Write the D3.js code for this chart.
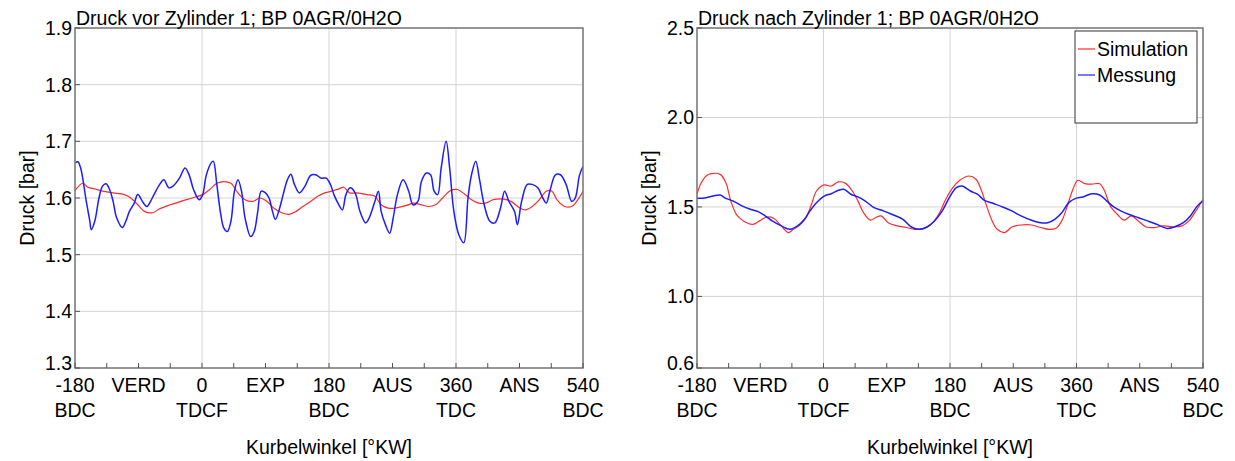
<!DOCTYPE html>
<html><head><meta charset="utf-8">
<script src="https://cdn.jsdelivr.net/npm/d3@7"></script>
<style>body{margin:0;background:#fff} text{font-family:"Liberation Sans",Arial,sans-serif;fill:#000}</style>
</head><body><svg id="c" width="1235" height="461"></svg>
<script>
const xTickValues = [-180,-90,0,90,180,270,360,450,540];
const xTickLine1 = ["-180","VERD","0","EXP","180","AUS","360","ANS","540"];
const xTickLine2 = ["BDC","","TDCF","","BDC","","TDC","","BDC"];
const xMinorTicks = [-180,-135,-90,-45,0,45,90,135,180,225,270,315,360,405,450,495,540];
const xGrid = [-180,0,180,360,540];
const leftYTicks = [1.3,1.4,1.5,1.6,1.7,1.8,1.9];
const leftYLabels = ["1.3","1.4","1.5","1.6","1.7","1.8","1.9"];
const rightYTicks = [0.6,1.0,1.5,2.0,2.5];
const rightYLabels = ["0.6","1.0","1.5","2.0","2.5"];
const seriesNames = ["Simulation","Messung"];
const titles = ["Druck vor Zylinder 1; BP 0AGR/0H2O","Druck nach Zylinder 1; BP 0AGR/0H2O"];

// Left panel: Druck vor Zylinder
const leftSimAngle = [-180,-169,-162,-152,-141,-126,-110,-101,-91,-81,-70,-60,-45,-30,-14,1,11,21,31,41,51,61,72,82,92,102,113,123,133,143,154,164,174,184,194,201,209,219,234,245,254,264,277,290,300,311,321,331,341,352,362,372,382,392,402,413,428,438,451,458,468,478,488,496,503,514,524,531,540];
const leftSimValue = [1.613,1.626,1.619,1.616,1.612,1.609,1.606,1.600,1.588,1.576,1.574,1.581,1.588,1.594,1.600,1.606,1.615,1.626,1.629,1.626,1.609,1.597,1.594,1.600,1.594,1.582,1.574,1.571,1.576,1.585,1.594,1.603,1.609,1.612,1.616,1.619,1.609,1.609,1.606,1.603,1.588,1.582,1.583,1.587,1.591,1.588,1.585,1.588,1.600,1.613,1.615,1.607,1.597,1.591,1.591,1.597,1.598,1.594,1.582,1.579,1.585,1.597,1.612,1.612,1.597,1.585,1.585,1.594,1.612];
const leftMeasAngle = [-180,-176,-172,-164,-159,-157,-152,-146,-141,-136,-131,-126,-121,-113,-108,-103,-96,-91,-83,-78,-73,-68,-60,-54,-47,-41,-32,-24,-18,-12,-4,1,6,13,16,21,26,31,36,41,46,51,56,61,69,74,79,84,90,95,100,104,110,115,121,126,131,138,146,154,161,169,176,182,187,194,199,204,210,217,224,232,237,245,250,254,260,266,271,277,285,293,299,306,311,318,324,329,334,339,346,351,357,364,371,377,382,388,393,400,408,415,423,429,435,443,447,453,461,468,476,483,488,493,501,508,516,524,529,535,540];
const leftMeasValue = [1.662,1.664,1.653,1.594,1.559,1.544,1.559,1.600,1.621,1.625,1.615,1.594,1.565,1.548,1.559,1.576,1.591,1.606,1.591,1.585,1.594,1.606,1.624,1.632,1.618,1.621,1.635,1.653,1.640,1.615,1.597,1.606,1.640,1.662,1.665,1.624,1.576,1.547,1.541,1.559,1.612,1.632,1.612,1.565,1.532,1.541,1.576,1.612,1.609,1.600,1.576,1.562,1.582,1.606,1.632,1.642,1.624,1.609,1.621,1.640,1.641,1.635,1.635,1.624,1.606,1.588,1.579,1.606,1.618,1.609,1.576,1.556,1.565,1.594,1.612,1.576,1.553,1.538,1.565,1.606,1.632,1.612,1.588,1.594,1.629,1.644,1.641,1.612,1.606,1.653,1.700,1.653,1.576,1.535,1.521,1.600,1.641,1.665,1.635,1.588,1.559,1.556,1.582,1.612,1.594,1.576,1.553,1.594,1.624,1.624,1.618,1.600,1.591,1.612,1.641,1.641,1.624,1.594,1.600,1.640,1.656];

// Right panel: Druck nach Zylinder
const rightSimAngle = [-180,-175,-167,-160,-147,-139,-132,-124,-114,-101,-91,-81,-71,-60,-50,-43,-35,-25,-17,-10,1,11,21,31,41,49,57,67,74,82,92,105,118,130,143,153,164,174,184,194,207,217,225,232,240,247,258,268,281,296,309,321,331,339,347,354,362,372,382,393,400,408,418,428,438,448,459,471,484,499,510,520,530,540];
const rightSimValue = [1.571,1.627,1.673,1.686,1.682,1.636,1.534,1.459,1.422,1.403,1.422,1.444,1.437,1.394,1.357,1.375,1.394,1.440,1.515,1.589,1.623,1.617,1.640,1.633,1.589,1.534,1.468,1.426,1.440,1.450,1.412,1.394,1.385,1.375,1.381,1.403,1.459,1.543,1.608,1.649,1.673,1.655,1.589,1.506,1.422,1.375,1.357,1.388,1.399,1.399,1.385,1.375,1.381,1.422,1.506,1.589,1.649,1.630,1.627,1.630,1.589,1.506,1.459,1.426,1.450,1.422,1.388,1.385,1.394,1.388,1.394,1.422,1.478,1.543];
const rightMeasAngle = [-180,-167,-157,-147,-139,-129,-116,-104,-93,-83,-73,-60,-48,-37,-27,-20,-10,1,11,21,29,39,49,59,72,85,97,113,125,136,146,158,169,179,189,197,209,219,229,242,255,268,281,296,309,319,329,339,349,359,369,382,393,403,413,423,436,448,461,474,489,499,512,522,532,540];
const rightMeasValue = [1.548,1.552,1.561,1.567,1.548,1.534,1.506,1.487,1.474,1.450,1.422,1.394,1.375,1.394,1.431,1.474,1.524,1.561,1.574,1.593,1.599,1.571,1.556,1.534,1.496,1.478,1.459,1.431,1.388,1.375,1.385,1.422,1.478,1.552,1.608,1.617,1.589,1.571,1.537,1.519,1.500,1.478,1.450,1.426,1.412,1.412,1.431,1.468,1.524,1.548,1.556,1.574,1.567,1.534,1.500,1.478,1.456,1.440,1.422,1.403,1.380,1.388,1.412,1.450,1.506,1.534];

const svg = d3.select("#c");
const RED = "#ff2b2b", BLUE = "#1c1cff";
const FS = 19.5;

function panel(o){
  const g = svg.append("g");
  const x = d3.scaleLinear().domain([-180,540]).range([o.left,o.right]);
  const y = d3.scaleLinear().domain(o.ydom).range([o.bottom,o.top]);
  g.selectAll(".gx").data(xGrid).join("line").attr("x1",d=>x(d)).attr("x2",d=>x(d))
    .attr("y1",o.top).attr("y2",o.bottom).attr("stroke","#d4d4d4").attr("stroke-width",1);
  g.selectAll(".gy").data(o.yticks).join("line").attr("x1",o.left).attr("x2",o.right)
    .attr("y1",d=>y(d)).attr("y2",d=>y(d)).attr("stroke","#d4d4d4").attr("stroke-width",1);
  const clipId = "clip"+o.id;
  svg.append("clipPath").attr("id",clipId).append("rect").attr("x",o.left).attr("y",o.top).attr("width",o.right-o.left).attr("height",o.bottom-o.top);
  const line = d3.line().x(d=>x(d[0])).y(d=>y(d[1])).curve(d3.curveCatmullRom.alpha(0.5));
  const sim = o.simA.map((a,i)=>[a,o.simV[i]]);
  const meas = o.measA.map((a,i)=>[a,o.measV[i]]);
  g.append("path").attr("d",line(sim)).attr("fill","none").attr("stroke",RED).attr("stroke-width",1.2).attr("clip-path",`url(#${clipId})`);
  g.append("path").attr("d",line(meas)).attr("fill","none").attr("stroke",BLUE).attr("stroke-width",1.5).attr("clip-path",`url(#${clipId})`);
  g.append("rect").attr("x",o.left).attr("y",o.top).attr("width",o.right-o.left).attr("height",o.bottom-o.top)
    .attr("fill","none").attr("stroke","#7a7a7a").attr("stroke-width",1.5);
  g.selectAll(".tx").data(xMinorTicks).join("line").attr("x1",d=>x(d)).attr("x2",d=>x(d))
    .attr("y1",o.bottom).attr("y2",o.bottom-5).attr("stroke","#555").attr("stroke-width",1);
  g.selectAll(".ty").data(o.yticks).join("line").attr("x1",o.left).attr("x2",o.left+5)
    .attr("y1",d=>y(d)).attr("y2",d=>y(d)).attr("stroke","#555").attr("stroke-width",1);
  g.selectAll(".yl").data(o.yticks).join("text").attr("x",o.left-3).attr("y",d=>y(d)).attr("dy",(d,i)=>i===0?"0.1em":"0.36em")
    .attr("text-anchor","end").attr("font-size",FS).text((d,i)=>o.ylabels[i]);
  const xl = g.selectAll(".xl").data(xTickValues).join("text").attr("text-anchor","middle").attr("font-size",FS);
  xl.append("tspan").attr("x",d=>x(d)).attr("y",392).text((d,i)=>xTickLine1[i]);
  xl.append("tspan").attr("x",d=>x(d)).attr("y",417).text((d,i)=>xTickLine2[i]);
  g.append("text").attr("x",(o.left+o.right)/2).attr("y",454).attr("text-anchor","middle").attr("font-size",FS).text("Kurbelwinkel [°KW]");
  g.append("text").attr("transform",`translate(${o.left-41},${(o.top+o.bottom)/2}) rotate(-90)`).attr("text-anchor","middle").attr("font-size",FS).text("Druck [bar]");
  g.append("text").attr("x",o.left+1).attr("y",o.top-3).attr("font-size",FS).text(o.title);
  return {x,y};
}

panel({id:"L",left:75,right:583,top:28,bottom:368,ydom:[1.3,1.9],yticks:leftYTicks,ylabels:leftYLabels,
  simA:leftSimAngle,simV:leftSimValue,measA:leftMeasAngle,measV:leftMeasValue,title:titles[0]});
panel({id:"R",left:697,right:1203,top:28,bottom:368,ydom:[0.6,2.5],yticks:rightYTicks,ylabels:rightYLabels,
  simA:rightSimAngle,simV:rightSimValue,measA:rightMeasAngle,measV:rightMeasValue,title:titles[1]});

const lg = svg.append("g");
lg.append("rect").attr("x",1075).attr("y",31).attr("width",122).attr("height",92).attr("fill","#fff").attr("stroke","#333").attr("stroke-width",1);
[RED,BLUE].forEach((c,i)=>{
  lg.append("line").attr("x1",1078).attr("x2",1095).attr("y1",49+i*26).attr("y2",49+i*26).attr("stroke",c).attr("stroke-width",1.2);
  lg.append("text").attr("x",1097).attr("y",49+i*26).attr("dy","0.36em").attr("font-size",FS).text(seriesNames[i]);
});
</script></body></html>
